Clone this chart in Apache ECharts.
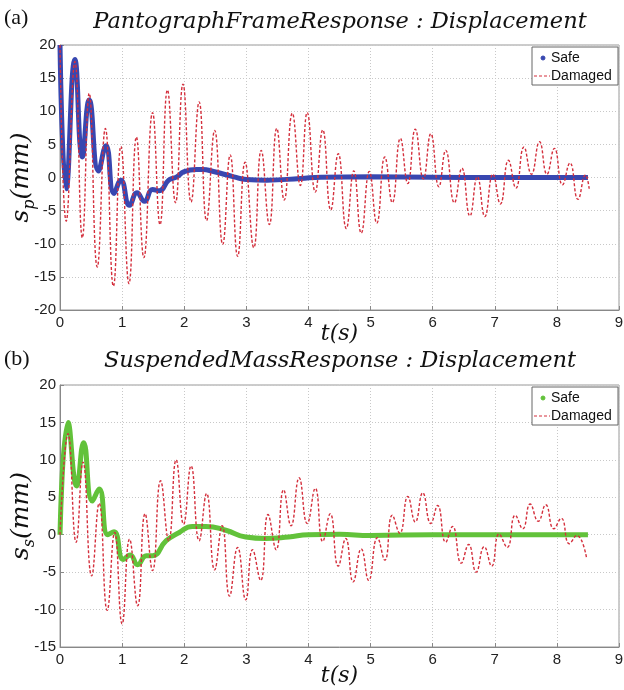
<!DOCTYPE html>
<html>
<head>
<meta charset="utf-8">
<script src="https://cdn.jsdelivr.net/npm/echarts@6/dist/echarts.min.js"></script>
<style>html,body{margin:0;padding:0;background:#fff}#c{width:624px;height:690px}</style>
</head>
<body>
<div id="c"></div>
<script>
// ---- Data ----
const xTicks = [0, 1, 2, 3, 4, 5, 6, 7, 8, 9];
const yTicksTop = [-20, -15, -10, -5, 0, 5, 10, 15, 20];
const yTicksBottom = [-15, -10, -5, 0, 5, 10, 15, 20];

// (a) Pantograph frame response
const topSafeT = [0, 0.10, 0.24, 0.36, 0.47, 0.62, 0.74, 0.87, 0.98, 1.12, 1.24, 1.36, 1.49, 1.60, 1.75, 1.88, 2.0, 2.2, 2.3, 2.47, 2.8, 3.0, 3.33, 3.87, 4.2, 5.0, 6.0, 7.0, 8.0, 8.5];
const topSafeV = [20, -1.7, 17.8, 3.1, 11.7, 1.0, 4.8, -2.4, -0.4, -4.2, -2.3, -3.6, -1.8, -2.0, -0.4, 0.1, 0.9, 1.2, 1.2, 0.9, 0.1, -0.3, -0.4, -0.15, 0.05, 0.1, 0.05, 0, 0, 0];

const topDamT = [0, 0.10, 0.24, 0.36, 0.47, 0.60, 0.73, 0.86, 0.98, 1.11, 1.23, 1.35, 1.49, 1.61, 1.73, 1.86, 1.98, 2.11, 2.24, 2.36, 2.49, 2.62, 2.74, 2.86, 2.98, 3.12, 3.24, 3.37, 3.49, 3.61, 3.74, 3.87, 3.98, 4.11, 4.23, 4.36, 4.48, 4.61, 4.73, 4.85, 4.98, 5.10, 5.23, 5.35, 5.48, 5.60, 5.72, 5.85, 5.97, 6.10, 6.21, 6.35, 6.47, 6.60, 6.72, 6.84, 6.97, 7.09, 7.22, 7.34, 7.47, 7.59, 7.72, 7.84, 7.96, 8.09, 8.21, 8.34, 8.46, 8.52];
const topDamV = [20, -6.6, 17.5, -9.1, 12.7, -13.5, 7.4, -16.4, 4.7, -16.0, 6.1, -12.1, 9.8, -7.1, 13.2, -3.8, 14.1, -3.7, 11.4, -6.5, 7.1, -10.1, 3.4, -11.9, 2.3, -10.6, 4.1, -7.1, 7.4, -3.4, 9.7, -1.2, 9.8, -2.2, 7.2, -4.9, 3.6, -7.7, 1.0, -8.4, 0.9, -6.9, 3.1, -3.8, 5.9, -0.9, 7.3, -0.2, 6.6, -1.4, 4.1, -3.8, 1.4, -5.8, 0.1, -5.9, 0.5, -4.0, 2.6, -1.6, 4.6, 0.5, 5.4, 0.5, 4.4, -1.1, 2.2, -3.3, 0.4, -1.7];

// (b) Suspended mass response
const botSafeT = [0, 0.13, 0.27, 0.38, 0.52, 0.63, 0.77, 0.87, 1.02, 1.13, 1.25, 1.39, 1.49, 1.71, 1.92, 2.13, 2.35, 2.67, 2.99, 3.31, 3.68, 4.0, 4.5, 5.0, 6.0, 7.0, 8.0, 8.5];
const botSafeV = [0, 15.0, 6.5, 12.3, 4.5, 6.1, 0, 0.4, -3.3, -2.7, -4.0, -2.8, -2.8, -0.8, 0.3, 1.1, 1.1, 0.6, -0.3, -0.5, -0.3, 0, 0.05, -0.1, 0, 0, 0, 0];

const botDamT = [0, 0.13, 0.26, 0.37, 0.51, 0.63, 0.76, 0.88, 1.00, 1.12, 1.25, 1.37, 1.49, 1.62, 1.75, 1.87, 1.99, 2.11, 2.24, 2.36, 2.49, 2.61, 2.73, 2.86, 2.99, 3.10, 3.23, 3.35, 3.48, 3.60, 3.72, 3.85, 3.98, 4.11, 4.23, 4.35, 4.48, 4.60, 4.72, 4.85, 4.97, 5.11, 5.23, 5.35, 5.47, 5.60, 5.72, 5.84, 5.97, 6.08, 6.21, 6.32, 6.46, 6.58, 6.70, 6.83, 6.95, 7.07, 7.20, 7.33, 7.45, 7.57, 7.70, 7.82, 7.95, 8.07, 8.20, 8.32, 8.48];
const botDamV = [0, 13.5, -1.0, 9.7, -5.5, 4.2, -10.1, 0.3, -11.9, -0.6, -9.5, 2.8, -4.8, 7.2, -0.8, 10.0, 1.4, 9.2, -0.8, 5.5, -4.7, 1.2, -8.2, -1.7, -8.7, -2.0, -6.1, 2.7, -2.0, 6.0, 1.2, 7.6, 1.5, 6.2, -0.9, 2.8, -4.2, -0.5, -6.3, -1.9, -6.1, -0.4, -3.4, 2.6, 0.2, 5.1, 1.7, 5.6, 1.5, 3.9, -1.0, 1.1, -3.8, -1.3, -5.0, -1.6, -4.2, 0.1, -1.7, 2.6, 0.8, 4.1, 1.8, 4.0, 0.8, 2.2, -1.2, -0.1, -3.2];

const seriesNames = ['Safe', 'Damaged'];
const panelTitles = ['PantographFrameResponse : Displacement', 'SuspendedMassResponse : Displacement'];
const panelTags = ['(a)', '(b)'];

// ---- Build ----
const zip = (t, v) => t.map((x, i) => [x, v[i]]);
const tickFont = { fontFamily: '"Liberation Sans", Arial, sans-serif', fontSize: 15, color: '#222' };
const gridLine = { show: true, lineStyle: { color: '#c8c8c8', type: [1, 2], width: 1 } };

function xAx(gridIndex, gap) {
  return {
    gridIndex, type: 'value', min: 0, max: 9, interval: 1,
    axisLine: { show: true, onZero: false, lineStyle: { color: '#888' } },
    axisTick: { show: true, inside: true, length: 4, lineStyle: { color: '#888' } },
    axisLabel: Object.assign({ margin: 5, formatter: v => xTicks.includes(v) ? String(v) : '' }, tickFont),
    splitLine: gridLine,
    name: 't(s)', nameLocation: 'middle', nameGap: gap, nameMoveOverlap: false,
    nameTextStyle: { fontFamily: '"DejaVu Serif", serif', fontStyle: 'italic', fontSize: 22, color: '#111', verticalAlign: 'top' }
  };
}
function yAx(gridIndex, min, max, ticks, sub) {
  return {
    gridIndex, type: 'value', min, max, interval: 5,
    axisLine: { show: true, lineStyle: { color: '#888' } },
    axisTick: { show: true, inside: true, length: 4, lineStyle: { color: '#888' } },
    axisLabel: Object.assign({ margin: 4, formatter: v => ticks.includes(v) ? String(v) : '' }, tickFont),
    splitLine: gridLine,
    name: '{i|s}{sub|' + sub + '}{i|(mm)}', nameLocation: 'middle', nameGap: 22, nameRotate: 90, nameMoveOverlap: false,
    nameTextStyle: {
      rich: {
        i: { fontFamily: '"DejaVu Serif", serif', fontStyle: 'italic', fontSize: 25, color: '#111', lineHeight: 34, verticalAlign: 'middle' },
        sub: { fontFamily: '"DejaVu Serif", serif', fontStyle: 'italic', fontSize: 16, color: '#111', lineHeight: 16, verticalAlign: 'bottom' }
      }
    }
  };
}

const red = '#d42f3c';
function legendGraphic(top, safeColor) {
  return [
    { type: 'rect', shape: { x: 532, y: top, width: 86, height: 38 }, style: { fill: '#fff', stroke: '#666', lineWidth: 1 }, z: 100 },
    { type: 'circle', shape: { cx: 543, cy: top + 11, r: 2 }, style: { fill: safeColor, stroke: safeColor }, z: 101 },
    { type: 'text', x: 551, y: top + 11, style: { text: seriesNames[0], font: '14px "Liberation Sans", Arial', fill: '#111', verticalAlign: 'middle' }, z: 101 },
    { type: 'line', shape: { x1: 534, y1: top + 29, x2: 550, y2: top + 29 }, style: { stroke: red, lineWidth: 1, lineDash: [3, 2] }, z: 101 },
    { type: 'text', x: 551, y: top + 29, style: { text: seriesNames[1], font: '14px "Liberation Sans", Arial', fill: '#111', verticalAlign: 'middle' }, z: 101 }
  ];
}

const titleFont = 'italic 22.5px "DejaVu Serif"';
const option = {
  animation: false,
  backgroundColor: '#fff',
  grid: [
    { left: 60, top: 45, width: 559, height: 265, show: true, borderColor: '#999', borderWidth: 1, backgroundColor: '#fff', containLabel: false, outerBoundsMode: 'none' },
    { left: 60, top: 385, width: 559, height: 262, show: true, borderColor: '#999', borderWidth: 1, backgroundColor: '#fff', containLabel: false, outerBoundsMode: 'none' }
  ],
  xAxis: [xAx(0, 13), xAx(1, 18)],
  yAxis: [yAx(0, -20, 20, yTicksTop, 'p'), yAx(1, -15, 20, yTicksBottom, 's')],
  series: [
    { name: 'Safe', type: 'line', xAxisIndex: 0, yAxisIndex: 0, data: zip(topSafeT, topSafeV), smooth: 0.5, showSymbol: false, lineStyle: { color: '#3847b0', width: 5 }, z: 2 },
    { name: 'Damaged', type: 'line', xAxisIndex: 0, yAxisIndex: 0, data: zip(topDamT, topDamV), smooth: 0.5, showSymbol: false, lineStyle: { color: red, width: 1.4, type: [3, 2] }, z: 3 },
    { name: 'Safe', type: 'line', xAxisIndex: 1, yAxisIndex: 1, data: zip(botSafeT, botSafeV), smooth: 0.5, showSymbol: false, lineStyle: { color: '#62c23a', width: 5 }, z: 2 },
    { name: 'Damaged', type: 'line', xAxisIndex: 1, yAxisIndex: 1, data: zip(botDamT, botDamV), smooth: 0.5, showSymbol: false, lineStyle: { color: red, width: 1.4, type: [3, 2] }, z: 3 }
  ],
  graphic: [
    { type: 'text', x: 4, y: 18, style: { text: panelTags[0], font: '22px "Liberation Serif"', fill: '#111', verticalAlign: 'middle' } },
    { type: 'text', x: 340, y: 22, style: { text: panelTitles[0], font: titleFont, fill: '#111', align: 'center', verticalAlign: 'middle' } },
    { type: 'text', x: 4, y: 359, style: { text: panelTags[1], font: '22px "Liberation Serif"', fill: '#111', verticalAlign: 'middle' } },
    { type: 'text', x: 340, y: 361, style: { text: panelTitles[1], font: titleFont, fill: '#111', align: 'center', verticalAlign: 'middle' } }
  ].concat(legendGraphic(47, '#3847b0'), legendGraphic(387, '#62c23a'))
};

const chart = echarts.init(document.getElementById('c'), null, { renderer: 'canvas' });
chart.setOption(option);
</script>
</body>
</html>
